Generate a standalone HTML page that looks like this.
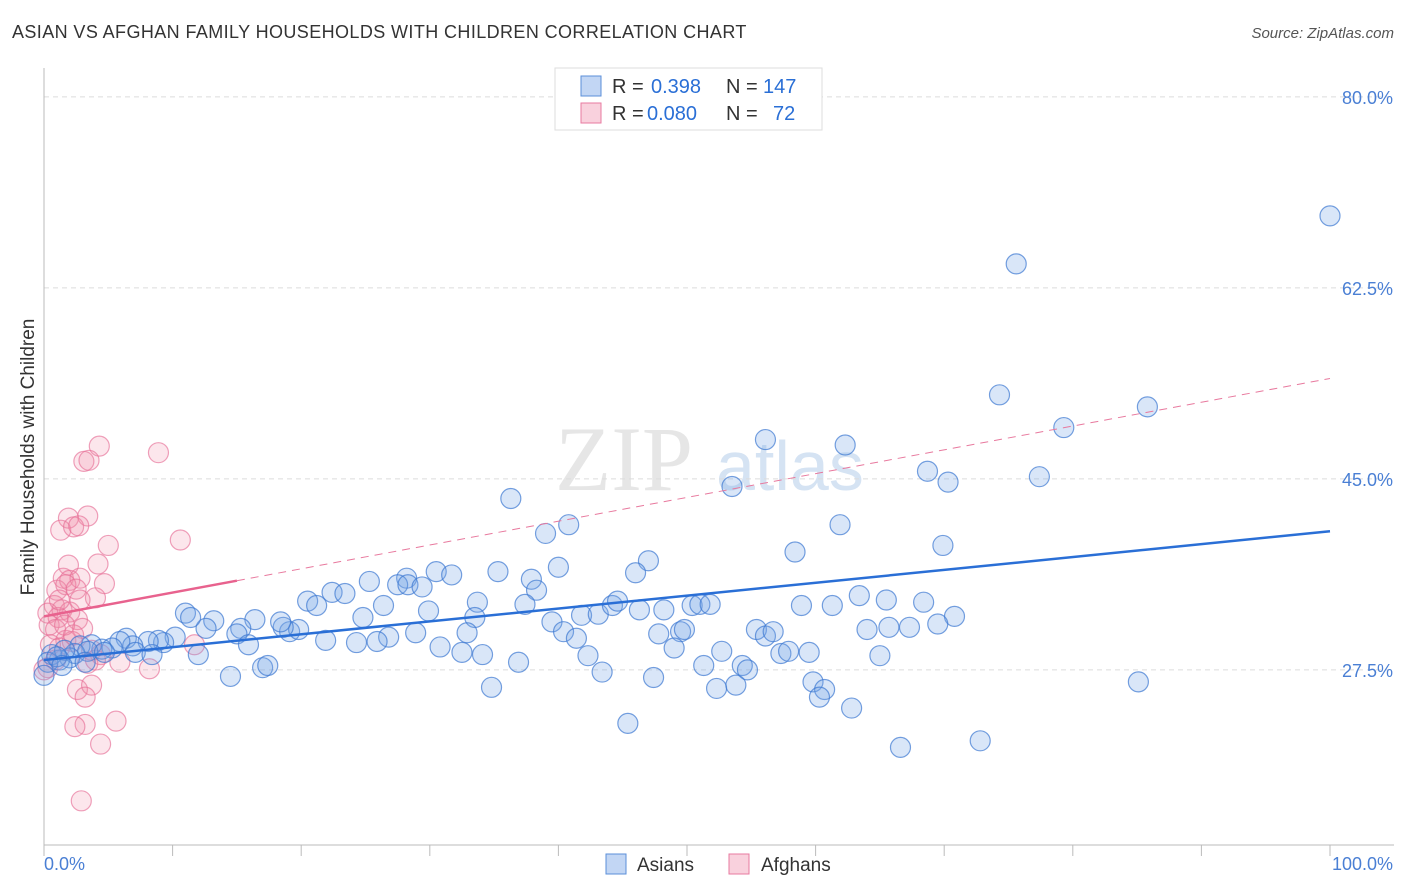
<!DOCTYPE html>
<html><head><meta charset="utf-8"><style>
body{margin:0;background:#fff;font-family:"Liberation Sans",sans-serif}
#wrap{position:relative;width:1406px;height:892px;overflow:hidden}
.t{position:absolute;white-space:nowrap}
</style></head><body>
<div id="wrap">
<div class="t" style="left:12px;top:22px;font-size:18px;color:#333;letter-spacing:0.4px">ASIAN VS AFGHAN FAMILY HOUSEHOLDS WITH CHILDREN CORRELATION CHART</div>
<div class="t" style="right:12px;top:25px;font-size:15px;color:#555;font-style:italic">Source: ZipAtlas.com</div>
<svg id="plot" width="1406" height="892" style="position:absolute;left:0;top:0"></svg>
</div>
<script>
const yTicks=[27.5,45,62.5,80];
const xTickLabels=["0.0%","100.0%"];
const asianX=[100,75.6,74.3,85.8,79.3,56.1,62.3,68.7,70.3,77.4,53.5,36.3,61.9,40.8,39.0,69.9,58.4,47.0,40.0,46.0,35.3,37.9,38.3,28.2,27.5,28.3,30.5,31.7,25.3,29.4,22.4,23.4,20.5,21.2,26.4,24.8,29.9,33.7,37.4,33.5,41.8,43.1,44.2,44.6,46.3,48.2,50.4,51.0,51.8,58.9,61.3,63.4,65.5,68.4,70.8,69.5,67.3,65.7,64.0,55.4,56.1,56.7,49.5,49.8,47.8,39.5,40.4,41.4,32.9,28.9,26.8,25.9,24.3,21.9,19.1,19.8,18.6,18.4,16.4,15.3,15.0,13.2,12.6,11.0,11.4,10.2,9.3,8.9,8.1,6.4,6.9,5.9,5.3,4.5,3.7,2.8,2.4,2.0,1.2,0.6,0.3,1.6,3.4,4.7,7.1,8.4,12.0,15.9,30.8,32.5,34.1,36.9,42.3,49.0,52.7,57.3,57.9,59.5,65.0,51.3,54.3,54.7,43.4,47.4,34.8,52.3,53.8,59.8,60.7,60.3,62.8,45.4,66.6,72.8,85.1,17.0,17.4,14.5,1.0,1.4,3.2,0.0];
const asianY=[69.1,64.7,52.7,51.6,49.7,48.6,48.1,45.7,44.7,45.2,44.3,43.2,40.8,40.8,40.0,38.9,38.3,37.5,36.9,36.4,36.5,35.8,34.8,35.9,35.3,35.3,36.5,36.2,35.6,35.1,34.6,34.5,33.8,33.4,33.4,32.3,32.9,33.7,33.5,32.3,32.5,32.6,33.4,33.8,33.0,33.0,33.4,33.5,33.5,33.4,33.4,34.3,33.9,33.7,32.4,31.7,31.4,31.4,31.2,31.2,30.6,31.0,31.0,31.2,30.8,31.9,31.0,30.4,30.9,30.9,30.5,30.1,30.0,30.2,31.0,31.2,31.4,31.9,32.1,31.3,30.8,32.0,31.3,32.7,32.3,30.5,30.0,30.2,30.1,30.4,29.7,30.1,29.5,29.4,29.8,29.7,29.0,28.6,28.4,28.9,28.2,29.3,29.2,29.1,29.1,28.9,28.9,29.8,29.6,29.1,28.9,28.2,28.8,29.5,29.2,29.0,29.2,29.1,28.8,27.9,27.9,27.5,27.3,26.8,25.9,25.8,26.1,26.4,25.7,25.0,24.0,22.6,20.4,21.0,26.4,27.7,27.9,26.9,28.7,27.9,28.2,27.0];
const afghanX=[4.3,8.9,3.1,3.5,1.9,3.4,1.3,2.3,2.7,10.6,5.0,1.9,4.2,1.5,2.0,2.8,4.7,1.0,1.7,2.5,4.0,0.8,1.4,2.0,0.3,1.1,2.6,0.4,0.9,3.0,1.7,2.2,0.5,1.2,3.7,4.4,11.7,0.9,0.3,5.9,8.2,3.4,4.0,2.6,3.7,3.2,3.2,2.4,5.6,4.4,2.9,1.6,2.3,2.8,1.2,0.0];
const afghanY=[48.0,47.4,46.6,46.7,41.4,41.6,40.3,40.6,40.7,39.4,38.9,37.1,37.2,35.9,35.7,35.9,35.4,34.8,35.3,34.9,34.1,33.4,33.0,32.8,32.7,32.3,32.1,31.6,31.2,31.3,30.2,30.1,29.8,29.5,29.3,28.9,29.8,28.4,27.7,28.2,27.6,28.1,28.4,25.7,26.1,25.0,22.5,22.3,22.8,20.7,15.5,31.6,30.7,33.9,33.9,27.5];
const asianTrend=[28.4,40.2];
const afghanTrend=[32.4,54.2];
const afghanSolidEnd=15;

const X0=44,X1=1330,YB=970,PY=10.914;
function sx(v){return X0+(X1-X0)*v/100;}
function sy(v){return YB-v*PY;}
const svg=document.getElementById('plot');
const NS='http://www.w3.org/2000/svg';
function mk(tag,at,parent){const e=document.createElementNS(NS,tag);for(const k in at)e.setAttribute(k,at[k]);(parent||svg).appendChild(e);return e;}

let wm=mk('text',{x:555,y:490,'font-size':92,'font-family':'Liberation Serif, serif',fill:'#e6e6e6'});


wm.textContent='ZIP';
let wm2=mk('text',{x:716,y:490,'font-size':70,'font-family':'Liberation Sans, sans-serif',fill:'#d5e3f3'});


wm2.textContent='atlas';

yTicks.forEach(v=>{
  const g=mk('line',{x1:X0,x2:1394,y1:sy(v),y2:sy(v),stroke:'#dcdcdc','stroke-dasharray':'5,4','stroke-width':1});
  
  
  const t=mk('text',{x:1393,y:sy(v)+7,'text-anchor':'end','font-size':18,fill:'#4a7fd4','font-family':'Liberation Sans, sans-serif'});
  
  
  t.textContent=v.toFixed(1)+'%';
});
let ya=mk('line',{x1:X0,x2:X0,y1:68,y2:845,stroke:'#bbb','stroke-width':1});


let xa=mk('line',{x1:X0,x2:1394,y1:845,y2:845,stroke:'#bbb','stroke-width':1});


for(let i=0;i<=10;i++){
  const tk=mk('line',{x1:sx(i*10),x2:sx(i*10),y1:845,y2:856,stroke:'#bbb','stroke-width':1});
  
  
}
[[0,'start',44],[100,'end',1393]].forEach((a,i)=>{
  const t=mk('text',{x:a[2],y:870,'text-anchor':a[1],'font-size':18,fill:'#4a7fd4','font-family':'Liberation Sans, sans-serif'});
  
  
  t.textContent=xTickLabels[i];
});
let yt=mk('text',{x:34,y:457,'text-anchor':'middle','font-size':19,fill:'#333',transform:'rotate(-90 34 457)','font-family':'Liberation Sans, sans-serif'});


yt.textContent='Family Households with Children';

function pts(xs,ys,fill,stroke,name){
  xs.forEach((x,i)=>{
    const c=mk('circle',{cx:sx(x),cy:sy(ys[i]),r:10,fill:fill,stroke:stroke,'stroke-width':1.2});
    
    
  });
}
pts(afghanX,afghanY,'rgba(240,140,170,0.22)','rgba(230,110,150,0.65)','afghan-point');
pts(asianX,asianY,'rgba(120,165,230,0.28)','rgba(60,120,210,0.7)','asian-point');

function tv(tr,x){return tr[0]+(tr[1]-tr[0])*x/100;}
let pd=mk('line',{x1:sx(afghanSolidEnd),y1:sy(tv(afghanTrend,afghanSolidEnd)),x2:sx(100),y2:sy(afghanTrend[1]),stroke:'#e8799e','stroke-width':1,'stroke-dasharray':'8,6'});


let ps=mk('line',{x1:sx(0),y1:sy(afghanTrend[0]),x2:sx(afghanSolidEnd),y2:sy(tv(afghanTrend,afghanSolidEnd)),stroke:'#e8628e','stroke-width':2.5});


let bl=mk('line',{x1:sx(0),y1:sy(asianTrend[0]),x2:sx(100),y2:sy(asianTrend[1]),stroke:'#2a6fd6','stroke-width':2.5});



let lb=mk('rect',{x:555,y:68,width:267,height:62,fill:'#fff',stroke:'#ddd'});


[[0,'rgba(120,165,230,0.45)','#5b8fd9','0.398','147'],[1,'rgba(240,140,170,0.4)','#e87aa0','0.080',' 72']].forEach(r=>{
  const y=86+r[0]*27;
  const s=mk('rect',{x:581,y:y-10,width:20,height:20,fill:r[1],stroke:r[2]});
  
  
  const t=mk('text',{x:612,y:y+7,'font-size':20,fill:'#333','font-family':'Liberation Sans, sans-serif'});
  
  
  t.innerHTML='R = <tspan fill="#2a6fd6" x="'+(r[0]?647:651)+'">'+r[3]+'</tspan><tspan fill="#333" x="726">N =</tspan><tspan fill="#2a6fd6" x="'+(r[0]?773:763)+'">'+r[4].trim()+'</tspan>';
});
[[606,'rgba(120,165,230,0.45)','#5b8fd9','Asians',637],[729,'rgba(240,140,170,0.4)','#e87aa0','Afghans',761]].forEach(r=>{
  const s=mk('rect',{x:r[0],y:854,width:20,height:20,fill:r[1],stroke:r[2]});
  
  
  const t=mk('text',{x:r[4],y:871,'font-size':19,fill:'#333','font-family':'Liberation Sans, sans-serif'});
  
  
  t.textContent=r[3];
});
</script>
</body></html>
